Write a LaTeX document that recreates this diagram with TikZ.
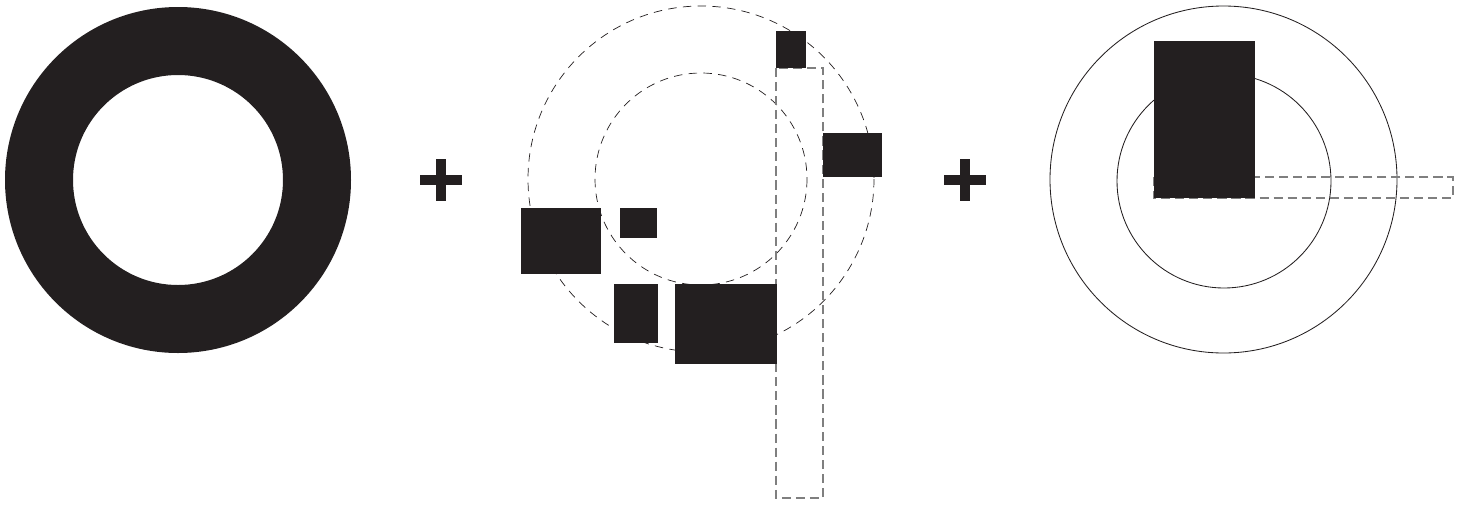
\documentclass[tikz,border=0pt]{standalone}
\usepackage{tikz}
\definecolor{inkblack}{HTML}{231F20}
\definecolor{guidegray}{HTML}{7F7F7F}
\begin{document}
\begin{tikzpicture}[
  x=0.25mm,y=-0.25mm,
  blk/.style={fill=inkblack},
  ring/.style={draw=inkblack,line width=0.6pt},
  dashring/.style={draw=inkblack,line width=0.5pt,dash pattern=on 6pt off 4.5pt},
  dashbox/.style={draw=guidegray,line width=0.95pt,dash pattern=on 6.5pt off 3.5pt}
]
\useasboundingbox (0,0) rectangle (1469,504);
% left: solid ring
\fill[blk,even odd rule] (178,180) circle (173) (178,180) circle (105);
% plus signs
\foreach \px in {441,965}{
  \fill[blk] (\px-21,175) rectangle (\px+21,185);
  \fill[blk] (\px-5,159) rectangle (\px+5,201);
}
% middle: dashed circles, guide strip, scattered blocks
\draw[dashring] (701,179) circle (173);
\draw[dashring] (701,179) circle (106);
\draw[dashbox] (776,68) rectangle (823,498);
\fill[blk] (776,31) rectangle (806,68);
\fill[blk] (823,133) rectangle (882,177);
\fill[blk] (521,208) rectangle (601,274);
\fill[blk] (620,208) rectangle (657,238);
\fill[blk] (614,284) rectangle (658,343);
\fill[blk] (675,284) rectangle (777,364);
% right: rings with one block and strip
\draw[ring] (1223.5,179.5) circle (173.5);
\draw[ring] (1224,181) circle (107);
\draw[dashbox] (1154,177) rectangle (1453,198);
\fill[blk] (1154,41) rectangle (1255,198);
\end{tikzpicture}
\end{document}
